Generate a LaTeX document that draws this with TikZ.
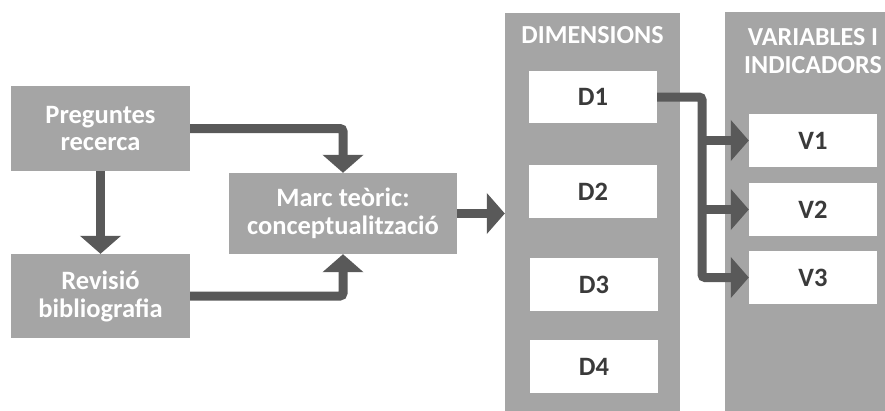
\documentclass[tikz,border=0pt]{standalone}
\usepackage{fontspec}
\setmainfont{Carlito}
\usetikzlibrary{arrows.meta,calc}
\definecolor{boxgray}{HTML}{A5A5A5}
\definecolor{linkgray}{HTML}{595959}
\definecolor{labeltext}{HTML}{3A3A3A}
\begin{document}
\begin{tikzpicture}[x=1pt,y=-1pt,
  graybox/.style={fill=boxgray,draw=none,text=white,font=\bfseries\fontsize{26.5}{28}\selectfont,align=center,inner sep=0pt},
  whitebox/.style={fill=white,draw=none,text=labeltext,font=\bfseries\fontsize{26.5}{28}\selectfont,inner sep=0pt,minimum width=128pt,minimum height=53pt},
  column/.style={fill=boxgray,draw=none,inner sep=0pt},
  coltitle/.style={text=white,font=\bfseries\fontsize{26}{28}\selectfont,align=center,inner sep=0pt},
  conn/.style={draw=linkgray,line width=9pt,rounded corners=3pt,-{Triangle[width=40pt,length=18pt]}}]
\useasboundingbox (0,0) rectangle (885,410);
\clip (0,0) rectangle (885,410);

% left-hand process boxes
\node[graybox,minimum width=179pt,minimum height=85pt] (preg) at (100.5,128.5) {Preguntes\\recerca};
\node[graybox,minimum width=179pt,minimum height=84pt] (rev) at (100.5,296) {Revisió\\bibliografia};
\node[graybox,minimum width=228pt,minimum height=81pt] (marc) at (343,213.5) {Marc teòric:\\conceptualització};

% the two columns
\node[column,minimum width=175pt,minimum height=398pt] (dimcol) at (592.5,212) {};
\node[column,minimum width=162pt,minimum height=400pt] (varcol) at (806,212) {};
\node[coltitle] (dimtitle) at (592.5,35) {DIMENSIONS};
\node[coltitle] (vartitle) at (813,51) {VARIABLES I\\INDICADORS};

% dimensions
\node[whitebox,minimum height=52pt] (d1) at (593,97) {D1};
\node[whitebox,minimum height=53pt] (d2) at (593,191.5) {D2};
\node[whitebox,minimum height=53pt] (d3) at (594,284.5) {D3};
\node[whitebox,minimum height=53pt] (d4) at (594,366.5) {D4};

% variables
\node[whitebox] (v1) at (813,140.5) {V1};
\node[whitebox] (v2) at (813,209.5) {V2};
\node[whitebox] (v3) at (813,277.5) {V3};

% flow between the boxes
\draw[conn] (preg.south) -- (rev.north);
\draw[conn] (preg.east) -| (marc.north);
\draw[conn] (rev.east) -| (marc.south);
\draw[conn] (marc.east) -- (marc.east -| dimcol.west);

% D1 fans out to the variables
\coordinate (trunk) at (702,97);
\draw[conn] (d1.east) -| (trunk |- v3.west) -- (v3.west);
\draw[conn] (trunk |- v1.west) -- (v1.west);
\draw[conn] (trunk |- v2.west) -- (v2.west);
\end{tikzpicture}
\end{document}
